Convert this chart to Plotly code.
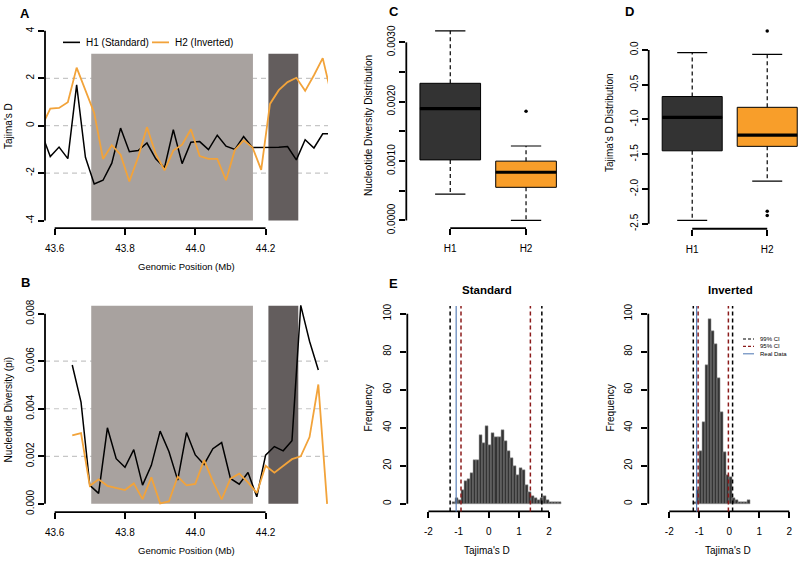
import plotly.graph_objects as go

W, H = 800, 563
FONT = "Liberation Sans, Arial, Helvetica, sans-serif"

# ---------------- DATA ----------------
# Panel A: Tajima's D in sliding windows (Mb)
posA_mb = [43.5625, 43.5875, 43.6125, 43.6375, 43.6625, 43.6875, 43.7125, 43.7375, 43.7625, 43.7875,
           43.8125, 43.8375, 43.8625, 43.8875, 43.9125, 43.9375, 43.9625, 43.9875, 44.0125, 44.0375,
           44.0625, 44.0875, 44.1125, 44.1375, 44.1625, 44.1875, 44.2125, 44.2375, 44.2625, 44.2875,
           44.3125, 44.3375, 44.3625, 44.3875]
tajD_H1 = [-0.30, -1.30, -0.90, -1.39, 1.72, -1.33, -2.46, -2.30, -1.58, -0.10,
           -1.10, -1.05, -0.73, -1.40, -1.77, -0.17, -1.60, -0.70, -0.67, -1.01,
           -0.40, -0.86, -1.00, -0.46, -0.92, -0.92, -0.92, -0.91, -0.88, -1.44,
           -0.59, -0.94, -0.34, -0.33]
tajD_H2 = [-0.05, 0.72, 0.75, 0.99, 2.45, 1.51, 0.54, -1.40, -0.82, -1.22,
           -2.35, -1.33, -0.06, -1.19, -1.88, -1.05, -0.80, -0.15, -1.28, -1.40,
           -1.40, -2.30, -1.02, -0.62, -0.91, -1.86, 0.92, 1.50, 1.84, 2.02,
           1.47, 2.13, 2.85, 1.27]
series_names = ["H1 (Standard)", "H2 (Inverted)"]

# Panel B: nucleotide diversity (pi)
posB_mb = [43.650, 43.675, 43.700, 43.725, 43.750, 43.775, 43.800, 43.825, 43.850, 43.875,
           43.900, 43.925, 43.950, 43.975, 44.000, 44.025, 44.050, 44.075, 44.100, 44.125,
           44.150, 44.175, 44.200, 44.225, 44.250, 44.275, 44.300, 44.325, 44.350, 44.375]
pi_H1 = [0.00584, 0.00428, 0.00078, 0.00044, 0.00320, 0.00190, 0.00154, 0.00228, 0.00079, 0.00162,
         0.00306, 0.00220, 0.00100, 0.00300, 0.00206, 0.00166, 0.00232, 0.00258, 0.00107, 0.00083,
         0.00132, 0.00030, 0.00205, 0.00241, 0.00223, 0.00266, 0.00835, 0.00684, 0.00563]
pi_H2 = [0.00288, 0.00298, 0.00076, 0.00103, 0.00076, 0.00068, 0.00058, 0.00086, 0.00020, 0.00112,
         0.00002, 0.00010, 0.00115, 0.00078, 0.00084, 0.00184, 0.00095, 0.00019, 0.00106, 0.00127,
         0.00090, 0.00046, 0.00160, 0.00131, 0.00161, 0.00188, 0.00200, 0.00281, 0.00502, 0.00000]

# shaded regions (Mb) and their vertical extent per panel
inversion_region = [43.704, 44.164]
breakpoint_region = [44.208, 44.293]
regionA_y = [-4, 3.03]
regionB_y = [0, 0.00833]
gridA = [-2, 0, 2]
gridB = [0.002, 0.004, 0.006]

# Panel C/D: boxplot statistics
groups = ["H1", "H2"]
group_pos = [1, 2]
pi_q1 = [0.00102, 0.000558]
pi_med = [0.001884, 0.000812]
pi_q3 = [0.00231, 0.000999]
pi_lo = [0.000442, 0.0]
pi_hi = [0.003194, 0.001254]
pi_out = [[], [0.00184]]
td_q1 = [-1.45, -1.386]
td_med = [-0.97, -1.225]
td_q3 = [-0.67, -0.825]
td_lo = [-2.45, -1.885]
td_hi = [-0.04, -0.065]
td_out = [[], [0.27, -2.32, -2.38]]

# Panel E: permutation histograms of Tajima's D
bin_width = 0.1
std_bin_left = [-1.2, -1.1, -1.0, -0.9, -0.8, -0.7, -0.6, -0.5, -0.4, -0.3, -0.2, -0.1,
                0.0, 0.1, 0.2, 0.3, 0.4, 0.5, 0.6, 0.7, 0.8, 0.9, 1.0, 1.1,
                1.2, 1.3, 1.4, 1.5, 1.6, 1.7, 1.8, 1.9, 2.0, 2.1, 2.2, 2.3]
std_counts = [1, 3, 2, 7, 12, 13, 16, 23, 23, 36, 32, 41,
              31, 37, 35, 35, 39, 33, 28, 24, 20, 15, 19, 18,
              10, 6, 4, 3, 2, 3, 4, 2, 1, 1, 1, 1]
inv_bin_left = [-1.2, -1.1, -1.0, -0.9, -0.8, -0.7, -0.6, -0.5, -0.4, -0.3,
                -0.2, -0.1, 0.0, 0.1, 0.2, 0.3, 0.4, 0.5, 0.6]
inv_counts = [1, 7, 28, 43, 73, 97, 91, 84, 66, 48,
              27, 15, 14, 3, 2, 1, 1, 1, 2]
std_ci99 = [-1.28, 1.76]
std_ci95 = [-0.92, 1.38]
std_real = -1.08
inv_ci99 = [-1.20, 0.11]
inv_ci95 = [-1.04, -0.03]
inv_real = -1.09
ci_names = ["99% CI", "95% CI", "Real Data"]

# ticks
xticksAB = [43.6, 43.8, 44.0, 44.2]
yticksA = [-4, -2, 0, 2, 4]
yticksB = [0, 0.002, 0.004, 0.006, 0.008]
yticksC = [0, 0.0005, 0.001, 0.0015, 0.002, 0.0025, 0.003]
yticksC_text = ["0.0000", "", "0.0010", "", "0.0020", "", "0.0030"]
yticksD = [-2.5, -2.0, -1.5, -1.0, -0.5, 0.0]
yticksE = [0, 20, 40, 60, 80, 100]
xticksE = [-2, -1, 0, 1, 2]

# ---------------- STYLE ----------------
ORANGE_LINE = "#F2A33A"
ORANGE_BOX = "#F89E2A"
DARK_BOX = "#333333"
LIGHT_REGION = "#A8A29F"
DARK_REGION = "#635D5D"
GRID_DASH = "#C6C6C6"
CI99 = "#000000"
CI95 = "#8B1A1A"
REAL = "#5B80B8"


def xd(a, b):
    return [a / W, b / W]


def yd(top, bottom):
    return [1 - bottom / H, 1 - top / H]


fig = go.Figure()

# ---- Panel A traces
fig.add_trace(go.Scatter(x=posA_mb, y=tajD_H1, mode="lines", name=series_names[0], showlegend=False,
                         line=dict(color="black", width=1.5), xaxis="x", yaxis="y"))
fig.add_trace(go.Scatter(x=posA_mb, y=tajD_H2, mode="lines", name=series_names[1], showlegend=False,
                         line=dict(color=ORANGE_LINE, width=1.8), xaxis="x", yaxis="y"))
# ---- Panel B traces
fig.add_trace(go.Scatter(x=posB_mb[:len(pi_H1)], y=pi_H1, mode="lines", name=series_names[0],
                         showlegend=False, line=dict(color="black", width=1.5), xaxis="x2", yaxis="y2"))
fig.add_trace(go.Scatter(x=posB_mb[:len(pi_H2)], y=pi_H2, mode="lines", name=series_names[1],
                         showlegend=False, line=dict(color=ORANGE_LINE, width=1.8), xaxis="x2", yaxis="y2"))


def add_boxes(q1, med, q3, lo, hi, outs, xa, ya):
    fills = [DARK_BOX, ORANGE_BOX]
    for i, p in enumerate(group_pos):
        fig.add_trace(go.Box(x=[p], q1=[q1[i]], median=[med[i]], q3=[q3[i]],
                             lowerfence=[q1[i]], upperfence=[q3[i]], width=0.8, name=groups[i],
                             fillcolor=fills[i], line=dict(color="black", width=1),
                             whiskerwidth=0, boxpoints=False, showlegend=False,
                             xaxis=xa, yaxis=ya, hoverinfo="skip"))
        # whiskers (dashed)
        fig.add_trace(go.Scatter(x=[p, p, None, p, p], y=[q3[i], hi[i], None, q1[i], lo[i]],
                                 mode="lines", line=dict(color="black", width=1.2, dash="4px,3px"),
                                 showlegend=False, xaxis=xa, yaxis=ya))
        # staples
        fig.add_trace(go.Scatter(x=[p - 0.2, p + 0.2, None, p - 0.2, p + 0.2],
                                 y=[hi[i], hi[i], None, lo[i], lo[i]], mode="lines",
                                 line=dict(color="black", width=1.2), showlegend=False,
                                 xaxis=xa, yaxis=ya))
        # thick median
        fig.add_trace(go.Scatter(x=[p - 0.4, p + 0.4], y=[med[i], med[i]], mode="lines",
                                 line=dict(color="black", width=3.2), showlegend=False,
                                 xaxis=xa, yaxis=ya))
        if outs[i]:
            fig.add_trace(go.Scatter(x=[p] * len(outs[i]), y=outs[i], mode="markers",
                                     marker=dict(color="black", size=3.5), showlegend=False,
                                     xaxis=xa, yaxis=ya))


add_boxes(pi_q1, pi_med, pi_q3, pi_lo, pi_hi, pi_out, "x3", "y3")
add_boxes(td_q1, td_med, td_q3, td_lo, td_hi, td_out, "x4", "y4")

# ---- Panel E histograms
for left, counts, xa, ya in [(std_bin_left, std_counts, "x5", "y5"),
                             (inv_bin_left, inv_counts, "x6", "y6")]:
    fig.add_trace(go.Bar(x=left, y=counts, width=bin_width, offset=0,
                         marker=dict(color="#343434", line=dict(color="#A0A0A0", width=0.5)),
                         showlegend=False, xaxis=xa, yaxis=ya))

shapes = []
annotations = []
# shaded regions A and B
for ya, yr in [("y", regionA_y), ("y2", regionB_y)]:
    xa = "x" if ya == "y" else "x2"
    for reg, col in [(inversion_region, LIGHT_REGION), (breakpoint_region, DARK_REGION)]:
        shapes.append(dict(type="rect", xref=xa, yref=ya, x0=reg[0], x1=reg[1], y0=yr[0], y1=yr[1],
                           fillcolor=col, line=dict(width=0), layer="below"))
for ya, grid in [("y", gridA), ("y2", gridB)]:
    xa = "x" if ya == "y" else "x2"
    for g in grid:
        shapes.append(dict(type="line", xref=xa + " domain", yref=ya, x0=0, x1=1, y0=g, y1=g,
                           line=dict(color=GRID_DASH, width=1.2, dash="5px,4px"), layer="below"))

# R-style axis lines spanning first..last tick
AXW = 1.8


def axis_lines(xa, ya, xt, yt):
    shapes.append(dict(type="line", xref=xa, yref=ya + " domain", x0=min(xt), x1=max(xt), y0=0, y1=0,
                       line=dict(color="black", width=AXW)))
    shapes.append(dict(type="line", xref=xa + " domain", yref=ya, x0=0, x1=0, y0=min(yt), y1=max(yt),
                       line=dict(color="black", width=AXW)))


axis_lines("x", "y", xticksAB, yticksA)
axis_lines("x2", "y2", xticksAB, yticksB)
axis_lines("x3", "y3", group_pos, yticksC)
axis_lines("x4", "y4", group_pos, yticksD)
axis_lines("x5", "y5", xticksE, yticksE)
axis_lines("x6", "y6", xticksE, yticksE)

# CI / observed lines on histograms
for xa, ya, c99, c95, real in [("x5", "y5", std_ci99, std_ci95, std_real),
                               ("x6", "y6", inv_ci99, inv_ci95, inv_real)]:
    for v in c99:
        shapes.append(dict(type="line", xref=xa, yref=ya + " domain", x0=v, x1=v, y0=0, y1=1,
                           line=dict(color=CI99, width=1.5, dash="4px,3px")))
    for v in c95:
        shapes.append(dict(type="line", xref=xa, yref=ya + " domain", x0=v, x1=v, y0=0, y1=1,
                           line=dict(color=CI95, width=1.5, dash="4px,3px")))
    shapes.append(dict(type="line", xref=xa, yref=ya + " domain", x0=real, x1=real, y0=0, y1=1,
                       line=dict(color=REAL, width=1.2)))


def legend_entry(label, color, dash, x0px, x1px, ypx, size, width):
    shapes.append(dict(type="line", xref="paper", yref="paper", x0=x0px / W, x1=x1px / W,
                       y0=1 - ypx / H, y1=1 - ypx / H, line=dict(color=color, width=width, dash=dash)))
    annotations.append(dict(text=label, x=(x1px + 3.5) / W, y=1 - ypx / H, xref="paper", yref="paper",
                            xanchor="left", yanchor="middle", showarrow=False,
                            font=dict(size=size, family=FONT, color="black")))


# legend of panel A (R-style, short keys)
legend_entry(series_names[0], "black", "solid", 63, 80, 40, 10, 1.6)
legend_entry(series_names[1], ORANGE_LINE, "solid", 152, 169, 40, 10, 1.8)
# legend of the Inverted histogram
legend_entry(ci_names[0], CI99, "3px,2px", 743, 754, 341.5, 6, 1.1)
legend_entry(ci_names[1], CI95, "3px,2px", 743, 754, 349, 6, 1.1)
legend_entry(ci_names[2], REAL, "solid", 743, 754, 356.5, 6, 1.1)


def ann(text, xpx, ypx, size=10, bold=False, angle=0):
    annotations.append(dict(text=("<b>%s</b>" % text) if bold else text, x=xpx / W, y=1 - ypx / H,
                            xref="paper", yref="paper", xanchor="center", yanchor="middle",
                            showarrow=False, textangle=angle,
                            font=dict(size=size, family=FONT, color="black")))


ann("A", 25, 11, 13, True)
ann("B", 25, 284, 13, True)
ann("C", 394, 9, 13, True)
ann("D", 629, 9, 13, True)
ann("E", 393, 285, 13, True)
ann("Tajima's D", 8, 125, 10, angle=-90)
ann("Genomic Position (Mb)", 186, 268, 9.5)
ann("Nucleotide Diversity (pi)", 8, 413, 10, angle=-90)
ann("Genomic Position (Mb)", 186, 556, 9.5)
ann("Nucleotide Diversity Distribution", 368, 125, 10, angle=-90)
ann("Tajima's D Distribution", 609, 122, 10, angle=-90)
ann("Standard", 487, 292, 11.5, True)
ann("Inverted", 730, 292, 11.5, True)
ann("Frequency", 368, 412, 10, angle=-90)
ann("Frequency", 610, 412, 10, angle=-90)
ann("Tajima's D", 487, 556, 10)
ann("Tajima's D", 728, 556, 10)

TICKFONT = dict(size=10, family=FONT, color="black")


def xax(domain, rng, tv, tt, anchor):
    return dict(domain=domain, range=rng, tickvals=tv, ticktext=tt, ticks="outside", ticklen=6,
                tickwidth=AXW, tickcolor="black", showline=False, zeroline=False, showgrid=False,
                tickfont=TICKFONT, anchor=anchor, fixedrange=True, ticklabelstandoff=5)


def yax(domain, rng, tv, tt, anchor, standoff=0):
    return dict(domain=domain, range=rng, tickvals=tv, ticktext=tt, ticks="outside", ticklen=6,
                tickwidth=AXW, tickcolor="black", showline=False, zeroline=False, showgrid=False,
                tickfont=TICKFONT, tickangle=-90, anchor=anchor, fixedrange=True,
                ticklabelstandoff=standoff)


fmt1 = lambda v: ("%.1f" % v)
fig.update_layout(
    width=W, height=H, autosize=False,
    margin=dict(l=0, r=0, t=0, b=0),
    paper_bgcolor="white", plot_bgcolor="rgba(0,0,0,0)",
    font=dict(family=FONT, color="black"),
    showlegend=False,
    xaxis=xax(xd(45, 328), [43.5725, 44.3775], xticksAB, ["%.1f" % v for v in xticksAB], "y"),
    yaxis=yax(yd(20.6, 228.8), [-4.32, 4.32], yticksA, [str(v) for v in yticksA], "x"),
    xaxis2=xax(xd(45, 328), [43.5725, 44.3775], xticksAB, ["%.1f" % v for v in xticksAB], "y2"),
    yaxis2=yax(yd(297.6, 517.3), [-0.000343, 0.00875], yticksB, ["%.3f" % v for v in yticksB], "x2"),
    xaxis3=xax(xd(406.3, 570), [0.42, 2.58], group_pos, groups, "y3"),
    yaxis3=yax(yd(20.2, 228.7), [-0.000128, 0.003328], yticksC, yticksC_text, "x3"),
    xaxis4=xax(xd(648.7, 800), [0.42, 2.437], group_pos, groups, "y4"),
    yaxis4=yax(yd(20.8, 229.4), [-2.57, 0.38], yticksD, [fmt1(v) for v in yticksD], "x4"),
    xaxis5=xax(xd(407.3, 570.2), [-2.7, 2.7], xticksE, [str(v) for v in xticksE], "y5"),
    yaxis5=yax(yd(308, 516.7), [-4, 104], yticksE, [str(v) for v in yticksE], "x5", 5),
    xaxis6=xax(xd(648.3, 800), [-2.7, 2.357], xticksE, [str(v) for v in xticksE], "y6"),
    yaxis6=yax(yd(308, 516.7), [-4, 104], yticksE, [str(v) for v in yticksE], "x6", 5),
    shapes=shapes,
    annotations=annotations,
    bargap=0,
)

fig.write_html("out.html", config={"responsive": False, "displayModeBar": False},
               post_script="document.body.style.margin='0';document.body.style.overflow='hidden';")
